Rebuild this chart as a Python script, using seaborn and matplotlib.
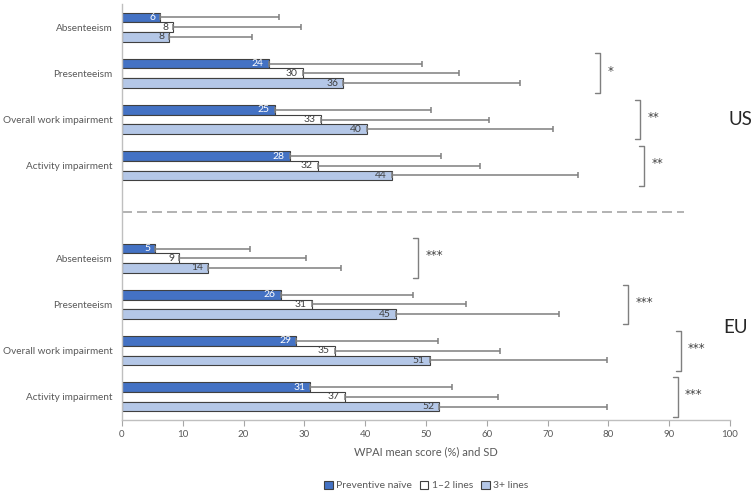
import pandas as pd
import matplotlib.pyplot as plt
import seaborn as sns

# WPAI scores
measures = ['Absenteeism', 'Presenteeism', 'Overall work impairment', 'Activity impairment']
groups = ['Preventive naïve', '1–2 lines', '3+ lines']
us_mean = [[6.3, 8.4, 7.8], [24.1, 29.7, 36.4], [25.1, 32.7, 40.3], [27.6, 32.2, 44.4]]
us_sd = [[19.6, 21.1, 13.5], [25.2, 25.7, 29.1], [25.7, 27.7, 30.6], [24.8, 26.6, 30.6]]
eu_mean = [[5.4, 9.4, 14.2], [26.1, 31.2, 45.0], [28.6, 35.0, 50.6], [31.0, 36.6, 52.2]]
eu_sd = [[15.6, 20.8, 21.8], [21.8, 25.3, 26.8], [23.4, 27.2, 29.2], [23.2, 25.3, 27.6]]
us_sig = ['', '*', '**', '**']
eu_sig = ['***', '***', '***', '***']
us_bracket_x = [None, 78.6, 85.2, 85.9]
eu_bracket_x = [48.7, 83.2, 91.9, 91.4]

colors = {'Preventive naïve': '#4472C4', '1–2 lines': '#FFFFFF', '3+ lines': '#B4C7E7'}
text_gray = '#595959'
line_gray = '#7F7F7F'

rows = []
for region, means, sds in [('US', us_mean, us_sd), ('EU', eu_mean, eu_sd)]:
    for i, m in enumerate(measures):
        for j, g in enumerate(groups):
            rows.append({'row': f'{region}|{m}', 'group': g, 'mean': means[i][j], 'sd': sds[i][j]})
df = pd.DataFrame(rows)
order = [f'US|{m}' for m in measures] + ['gap'] + [f'EU|{m}' for m in measures]

sns.set_theme(style='white')
plt.rcParams['font.family'] = ['Lato', 'DejaVu Sans']

fig = plt.figure(figsize=(7.53, 4.92), dpi=100)
ax = fig.add_axes([0.162, 0.1463, 0.8075, 0.8456])

sns.barplot(data=df, y='row', x='mean', hue='group', order=order, hue_order=groups,
            palette=colors, saturation=1, orient='h', width=0.63, gap=0, errorbar=None,
            edgecolor='#404040', linewidth=0.8, ax=ax)

handles, labels = ax.get_legend_handles_labels()
if ax.get_legend() is not None:
    ax.get_legend().remove()

# error bars (SD, one-sided) and value labels
lookup = df.set_index(['row', 'group'])
for g, cont in zip(groups, ax.containers):
    for bar in cont:
        yc = bar.get_y() + bar.get_height() / 2
        row = order[int(round(yc))]
        rec = lookup.loc[(row, g)]
        ax.errorbar(rec['mean'], yc, xerr=[[0], [rec['sd']]], fmt='none',
                    ecolor=line_gray, elinewidth=1.1, capsize=2.5, capthick=1.1, zorder=1)
        tcol = 'white' if g == 'Preventive naïve' else '#404040'
        ax.text(rec['mean'] - 0.8, yc, f"{round(rec['mean'])}", ha='right', va='center',
                fontsize=7.5, color=tcol)

# significance brackets
def bracket(x, idx, label):
    y0, y1 = idx - 0.43, idx + 0.43
    ax.plot([x - 0.8, x, x, x - 0.8], [y0, y0, y1, y1], color=line_gray, lw=1.0, clip_on=False)
    ax.text(x + 1.2, idx - 0.05, label, ha='left', va='center', fontsize=8.5,
            family='DejaVu Sans', color='#404040')

for i in range(4):
    if us_sig[i]:
        bracket(us_bracket_x[i], order.index(f'US|{measures[i]}'), us_sig[i])
    bracket(eu_bracket_x[i], order.index(f'EU|{measures[i]}'), eu_sig[i])

gap_idx = order.index('gap')
ax.plot([0, 92.4], [gap_idx, gap_idx], color='#A6A6A6', lw=1.2, ls=(0, (6, 3)))

ax.text(99.7, 2, 'US', ha='left', va='center', fontsize=13.5, color='#262626', clip_on=False)
ax.text(98.9, 6.5, 'EU', ha='left', va='center', fontsize=13.5, color='#262626', clip_on=False)

ax.set_xlim(0, 100)
ax.set_ylim(len(order) - 0.5, -0.5)
ax.set_xticks(range(0, 101, 10))
ax.set_yticks(range(len(order)))
ax.set_yticklabels(['' if r == 'gap' else r.split('|')[1] for r in order])
ax.tick_params(axis='x', labelsize=7, colors=text_gray, length=4, width=0.8, direction='out', bottom=True)
ax.tick_params(axis='x', color='#A6A6A6')
ax.tick_params(axis='y', labelsize=7.2, colors=text_gray, length=0, pad=7)
ax.set_ylabel('')
ax.set_xlabel('WPAI mean score (%) and SD', fontsize=8, color=text_gray, labelpad=5)
for side in ['top', 'right']:
    ax.spines[side].set_visible(False)
for side in ['left', 'bottom']:
    ax.spines[side].set_color('#BFBFBF')
    ax.spines[side].set_linewidth(1.0)

fig.legend(handles, labels, loc='lower center', bbox_to_anchor=(0.566, -0.016), ncol=3,
           frameon=False, fontsize=7.5, handlelength=0.8, handleheight=0.8,
           handletextpad=0.3, columnspacing=0.8, labelcolor=text_gray)

fig.savefig('out.png', dpi=100)
